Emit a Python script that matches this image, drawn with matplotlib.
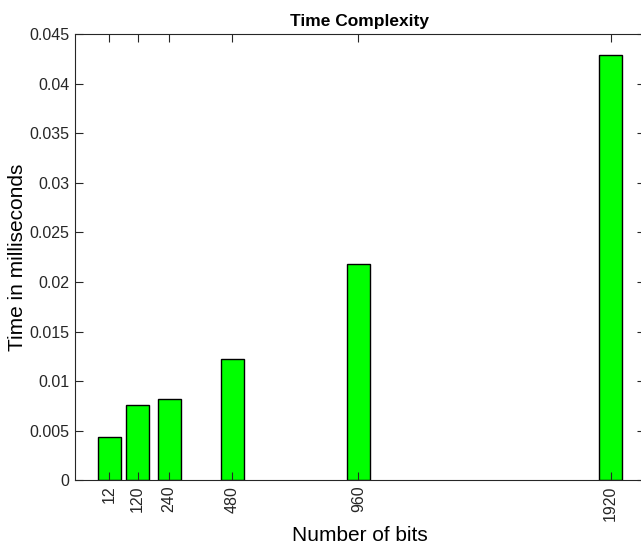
import matplotlib
matplotlib.use("Agg")
from matplotlib import pyplot as plt

plt.rcParams['font.family'] = ['Liberation Sans', 'DejaVu Sans']

# data
bits = [12, 120, 240, 480, 960, 1920]
times_ms = [0.0044, 0.0076, 0.0082, 0.0122, 0.0218, 0.0429]
ytick_vals = [0, 0.005, 0.01, 0.015, 0.02, 0.025, 0.03, 0.035, 0.04, 0.045]
ytick_labels = ["0", "0.005", "0.01", "0.015", "0.02", "0.025", "0.03", "0.035", "0.04", "0.045"]

axcol = "#262626"

fig = plt.figure(figsize=(6.41, 5.44), dpi=100)
ax = fig.add_axes([0.117, 0.1171, 0.889, 0.8204])

# matlab style bar width = 0.8 of smallest spacing
width = 0.8 * min(b - a for a, b in zip(bits[:-1], bits[1:]))
ax.bar(bits, times_ms, width=width, color="#00ff00", edgecolor="black", linewidth=1.0)

ax.set_xlim(bits[0] - 130.6, bits[-1] + 130.6)
ax.set_ylim(0, 0.045)
ax.set_xticks(bits)
ax.set_xticklabels([str(b) for b in bits], rotation=90)
ax.set_yticks(ytick_vals)
ax.set_yticklabels(ytick_labels)

ax.tick_params(direction="in", length=6, width=0.8, colors=axcol, labelsize=11.5,
               top=True, right=True, pad=4)
for sp in ax.spines.values():
    sp.set_color(axcol)
    sp.set_linewidth(0.8)

ax.set_title("Time Complexity", fontsize=12.5, fontweight="bold", pad=6)
ax.set_xlabel("Number of bits", fontsize=15, color="black", labelpad=3.5)
ax.set_ylabel("Time in milliseconds", fontsize=15, color="black", labelpad=1.5)

fig.savefig("out.png", dpi=100)
